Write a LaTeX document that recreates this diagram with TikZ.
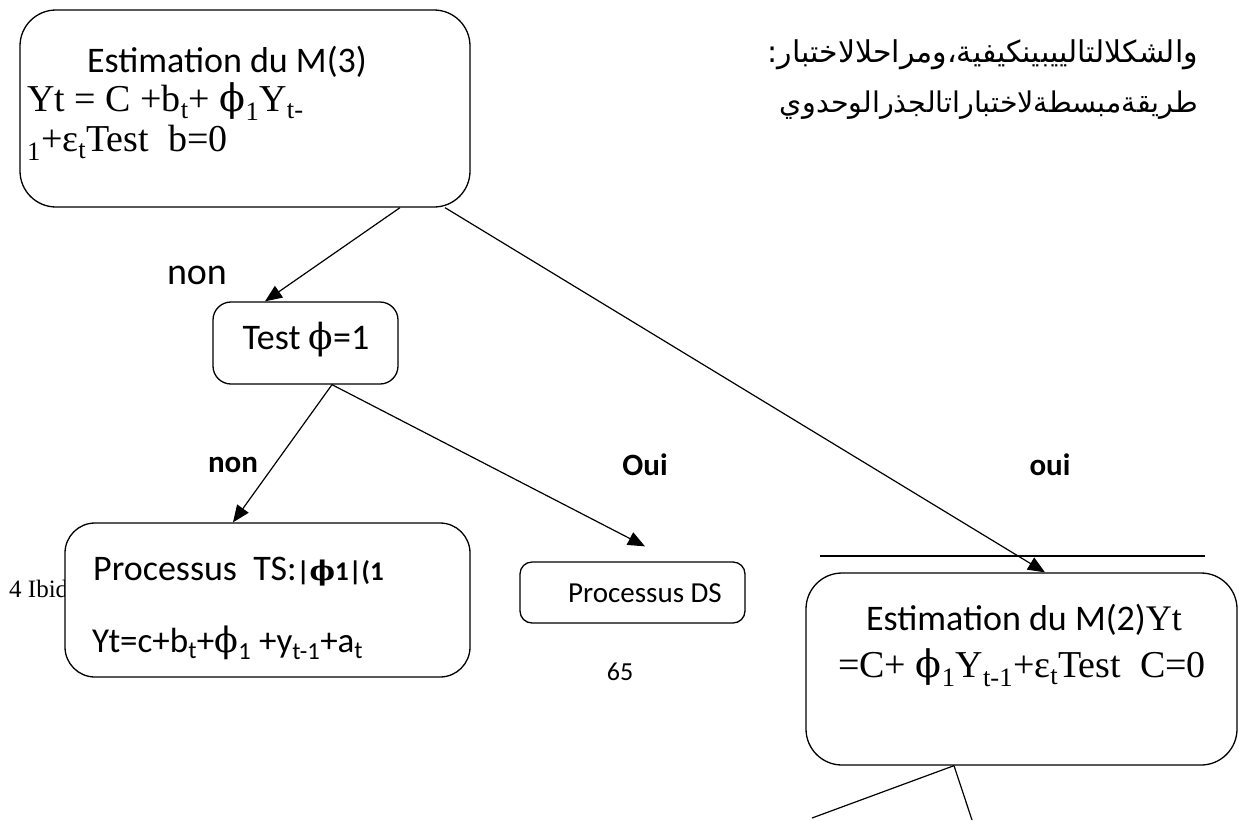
\documentclass[tikz,border=0pt]{standalone}
\usepackage{fontspec}
\setmainfont{Carlito}
\newfontfamily\serifm{Liberation Serif}
\newfontfamily\phif{DejaVu Serif}
\newfontfamily\arabicfont[Script=Arabic]{DejaVu Sans}
\TeXXeTstate=1
\usetikzlibrary{arrows.meta}
\newcommand\bigsans{\fontsize{36}{42}\selectfont}
\newcommand\bigser{\serifm\fontsize{38}{44}\selectfont}
\newcommand\ph{{\phif ϕ}}
\tikzset{
  box/.style={draw, line width=1.3pt, fill=white, inner sep=0pt},
  conn/.style={line width=1.2pt},
  arr/.style={conn, -{Triangle[length=17pt,width=14pt]}},
  lbl/.style={inner sep=0pt},
  blbl/.style={inner sep=0pt, font=\fontsize{31}{36}\selectfont\bfseries},
}
\begin{document}
\begin{tikzpicture}[x=1pt,y=-1pt]
\useasboundingbox (0,0) rectangle (1239,820);
% footnote text partly hidden behind box
\node[lbl, anchor=base west] (ibid) at (9,597) {\serifm\fontsize{25}{30}\selectfont 4 Ibid};
% boxes
\node[box, minimum width=450pt, minimum height=197pt, rounded corners=36pt] (m3) at (245,108.5) {};
\node[box, minimum width=185pt, minimum height=82pt, rounded corners=18pt] (test) at (305.5,343) {};
\node[box, minimum width=405pt, minimum height=154pt, rounded corners=30pt] (ts) at (267.5,600) {};
\node[box, minimum width=225pt, minimum height=61pt, rounded corners=12pt] (ds) at (632.5,592.5) {};
\node[box, minimum width=431pt, minimum height=192pt, rounded corners=36pt] (m2) at (1021.5,669) {};
% texts in boxes
\node[lbl] (m3t) at (227,62) {\bigsans Estimation du M(3)};
\node[lbl, anchor=west] (m3a) at (27,102) {\bigser Yt = C +b\textsubscript{t}+ \ph\textsubscript{1}Y\textsubscript{t-}};
\node[lbl, anchor=west] (m3b) at (27,143) {\bigser \textsubscript{1}+ε\textsubscript{t}Test\ \ b=0};
\node[lbl] (testt) at (306,340) {\bigsans Test \ph=1};
\node[lbl, anchor=base west] (ts1) at (93,580) {\bigsans Processus\ \ TS:{\fontsize{27}{32}\selectfont\bfseries |\ph1|(1}};
\node[lbl, anchor=base west] (ts2) at (92,652) {\fontsize{35}{40}\selectfont Yt=c+b\textsubscript{t}+\ph\textsubscript{1} +y\textsubscript{t-1}+a\textsubscript{t}};
\node[lbl] (dst) at (645,593) {\fontsize{29}{34}\selectfont Processus DS};
\node[lbl] (m2a) at (1024,620) {\bigsans Estimation du M(2){\serifm Yt}};
\node[lbl] (m2b) at (1022,668) {\bigser =C+ \ph\textsubscript{1}Y\textsubscript{t-1}+ε\textsubscript{t}Test\ \ C=0};
% page number
\node[lbl] (pg) at (620,672) {\fontsize{26}{30}\selectfont 65};
% arabic text
\node[lbl, anchor=east] (ar1) at (1198,55) {\arabicfont\fontsize{30}{36}\selectfont\beginR والشكلالتالييبينكيفية،ومراحلالاختبار:\endR};
\node[lbl, anchor=east] (ar2) at (1198,105) {\arabicfont\fontsize{28.5}{34}\selectfont\beginR طريقةمبسطةلاختباراتالجذرالوحدوي\endR};
% labels
\node[lbl] (lnon1) at (197,275) {\fontsize{38}{44}\selectfont non};
\node[blbl] (lnon2) at (233,465) {non};
\node[blbl] (loui1) at (645,465) {Oui};
\node[blbl] (loui2) at (1050,465) {oui};
% anchor coordinates
\coordinate (a1s) at ([xshift=155pt]m3.south);
\coordinate (a1e) at ([xshift=-40.5pt]test.north);
\coordinate (a2s) at ([xshift=26.5pt]test.south);
\coordinate (a2e) at ([xshift=-34.5pt]ts.north);
\coordinate (a3e) at ([xshift=12.5pt,yshift=15pt]ds.north);
\coordinate (a4s) at ([xshift=200pt]m3.south);
\coordinate (a4e) at ([xshift=23.5pt]m2.north);
\coordinate (hl1) at (820,556);
\coordinate (hl2) at (1205,556);
\coordinate (b0) at ([xshift=-67.5pt]m2.south);
\coordinate (b1) at (812,818);
\coordinate (b2) at (972,820);
% connectors
\draw[conn] (hl1) -- (hl2);
\draw[arr] (a1s) -- (a1e);
\draw[arr] (a2s) -- (a2e);
\draw[arr] (a2s) -- (a3e);
\draw[arr] (a4s) -- (a4e);
\draw[conn] (b0) -- (b1);
\draw[conn] (b0) -- (b2);
\end{tikzpicture}
\end{document}
